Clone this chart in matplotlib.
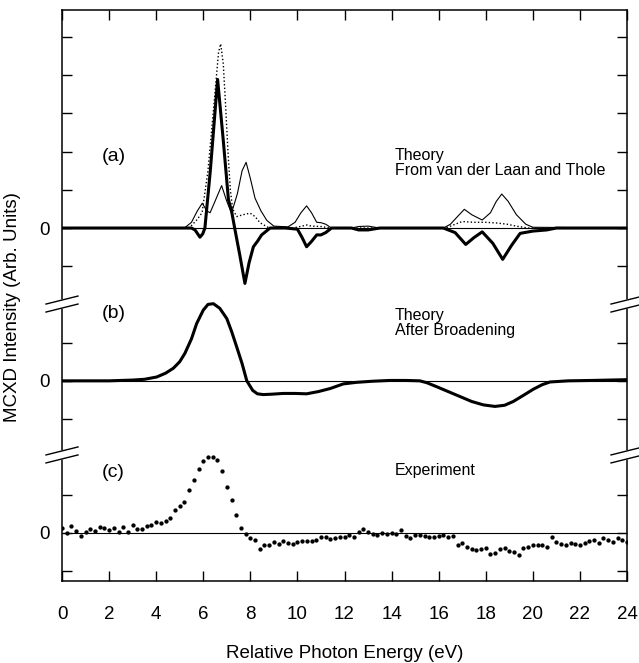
import numpy as np
import matplotlib
matplotlib.use("Agg")
import matplotlib.pyplot as plt

plt.rcParams['font.family'] = ['Liberation Sans', 'DejaVu Sans']

# (a) theory from van der Laan and Thole -- thick solid (MCXD)
e_a_mcxd = [0, 5.0, 5.5, 5.65, 5.86, 5.98, 6.07, 6.3, 6.61, 6.85, 7.07, 7.2, 7.35, 7.55, 7.77,
            7.95, 8.13, 8.3, 8.48, 8.84, 9.5, 10.0, 10.2, 10.39, 10.6, 10.82, 11.0, 11.2, 11.45,
            12.3, 12.6, 13.0, 13.5, 16.2, 16.7, 17.15, 17.5, 17.85, 18.3, 18.72, 19.1, 19.46,
            20.0, 20.59, 21.0, 24]
i_a_mcxd = [0, 0, 0, -0.05, -0.24, -0.15, 0.0, 1.5, 3.89, 2.3, 0.74, 0.45, -0.05, -0.7, -1.45,
            -0.9, -0.49, -0.35, -0.18, 0.0, 0.0, -0.03, -0.25, -0.49, -0.35, -0.18, -0.18, -0.12, 0.0,
            0.0, -0.05, -0.05, 0.0, 0.0, -0.12, -0.43, -0.25, -0.1, -0.4, -0.82, -0.45, -0.14,
            -0.08, -0.05, 0.0, 0.0]

# (a) thin solid
e_a_thin = [0, 5.2, 5.5, 5.75, 5.96, 6.15, 6.29, 6.5, 6.78, 7.0, 7.2, 7.45, 7.65, 7.82, 8.0,
            8.2, 8.45, 8.7, 9.0, 9.6, 9.9, 10.15, 10.39, 10.6, 10.82, 11.0, 11.2, 11.45, 12.3,
            12.6, 13.0, 13.5, 16.2, 16.5, 16.8, 17.09, 17.4, 17.85, 18.2, 18.45, 18.68, 18.95,
            19.3, 19.7, 20.0, 24]
i_a_thin = [0, 0, 0.15, 0.45, 0.65, 0.45, 0.4, 0.7, 1.11, 0.7, 0.39, 0.9, 1.5, 1.72, 1.3,
            0.78, 0.45, 0.2, 0.05, 0.03, 0.15, 0.4, 0.58, 0.4, 0.15, 0.14, 0.1, 0.0, 0.0,
            0.04, 0.05, 0.0, 0.0, 0.1, 0.3, 0.49, 0.35, 0.21, 0.4, 0.7, 0.89, 0.7,
            0.35, 0.1, 0.02, 0]

# (a) dotted
e_a_dot = [0, 5.4, 5.72, 5.95, 6.2, 6.45, 6.65, 6.74, 6.85, 6.95, 7.05, 7.15, 7.25, 7.42, 7.7,
           7.99, 8.2, 8.41, 8.8, 9.8, 10.2, 10.4, 10.6, 11.0, 11.4, 16.3, 16.7, 17.0, 17.5,
           18.0, 18.5, 18.9, 19.3, 19.8, 24]
i_a_dot = [0, 0, 0.21, 0.4, 1.5, 3.2, 4.6, 4.82, 4.3, 3.2, 2.0, 1.0, 0.5, 0.3, 0.35,
           0.39, 0.3, 0.14, 0.0, 0.0, 0.05, 0.08, 0.05, 0.04, 0, 0, 0.1, 0.17, 0.15,
           0.15, 0.13, 0.1, 0.05, 0, 0]

# (b) theory after broadening
e_b = [0, 2.0, 3.0, 3.5, 4.02, 4.4, 4.73, 5.0, 5.22, 5.5, 5.72, 6.0, 6.2, 6.43, 6.7, 7.0, 7.2,
       7.42, 7.65, 7.85, 8.1, 8.3, 8.55, 8.9, 9.4, 9.9, 10.39, 10.9, 11.4, 11.95, 12.5, 13.2,
       13.93, 14.6, 15.2, 15.5, 15.9, 16.4, 16.9, 17.4, 17.9, 18.39, 18.8, 19.17, 19.6, 20.02,
       20.4, 20.73, 21.5, 22.5, 24]
i_b = [0, 0, 0.02, 0.04, 0.1, 0.2, 0.33, 0.5, 0.72, 1.1, 1.5, 1.85, 2.0, 2.02, 1.9, 1.63, 1.3,
       0.89, 0.45, 0.0, -0.25, -0.34, -0.36, -0.35, -0.33, -0.33, -0.34, -0.28, -0.2, -0.08, -0.04,
       -0.01, 0.01, 0.01, 0.0, -0.05, -0.15, -0.28, -0.41, -0.54, -0.63, -0.67, -0.64, -0.54,
       -0.38, -0.22, -0.1, -0.03, 0, 0.01, 0.03]

# (c) experiment
e_c = [0.0, 0.2, 0.4, 0.6, 0.8, 1.0, 1.2, 1.4, 1.6, 1.8, 2.0, 2.2, 2.4, 2.6, 2.8, 3.0, 3.2, 3.4,
       3.6, 3.8, 4.0, 4.2, 4.4, 4.6, 4.8, 5.0, 5.2, 5.4, 5.6, 5.8, 6.0, 6.2, 6.4, 6.6, 6.8, 7.0,
       7.2, 7.4, 7.6, 7.8, 8.0, 8.2, 8.4, 8.6, 8.8, 9.0, 9.2, 9.4, 9.6, 9.8, 10.0, 10.2, 10.4,
       10.6, 10.8, 11.0, 11.2, 11.4, 11.6, 11.8, 12.0, 12.2, 12.4, 12.6, 12.8, 13.0, 13.2, 13.4,
       13.6, 13.8, 14.0, 14.2, 14.4, 14.6, 14.8, 15.0, 15.2, 15.4, 15.6, 15.8, 16.0, 16.2, 16.4,
       16.6, 16.8, 17.0, 17.2, 17.4, 17.6, 17.8, 18.0, 18.2, 18.4, 18.6, 18.8, 19.0, 19.2, 19.4,
       19.6, 19.8, 20.0, 20.2, 20.4, 20.6, 20.8, 21.0, 21.2, 21.4, 21.6, 21.8, 22.0, 22.2, 22.4,
       22.6, 22.8, 23.0, 23.2, 23.4, 23.6, 23.8, 24.0]
i_c = [0.13, 0.0, 0.19, 0.05, -0.07, 0.02, 0.11, 0.05, 0.15, 0.12, 0.07, 0.13, 0.03, 0.15, 0.03,
       0.2, 0.11, 0.1, 0.18, 0.2, 0.29, 0.25, 0.3, 0.38, 0.6, 0.71, 0.81, 1.12, 1.38, 1.66, 1.88,
       1.99, 1.99, 1.9, 1.63, 1.21, 0.85, 0.48, 0.14, -0.04, -0.14, -0.19, -0.41, -0.33, -0.33,
       -0.23, -0.29, -0.21, -0.26, -0.28, -0.24, -0.22, -0.2, -0.22, -0.18, -0.12, -0.12, -0.16,
       -0.14, -0.1, -0.12, -0.06, -0.12, 0.02, 0.09, 0.03, -0.03, -0.05, 0.0, -0.02, -0.01, -0.04,
       0.08, -0.07, -0.13, -0.05, -0.06, -0.09, -0.12, -0.11, -0.07, -0.05, -0.12, -0.09, -0.31,
       -0.26, -0.37, -0.42, -0.46, -0.43, -0.39, -0.56, -0.54, -0.42, -0.39, -0.47, -0.5, -0.57,
       -0.39, -0.36, -0.31, -0.33, -0.33, -0.36, -0.11, -0.24, -0.3, -0.31, -0.26, -0.28, -0.31,
       -0.27, -0.22, -0.19, -0.27, -0.14, -0.19, -0.24, -0.14, -0.18, -0.23]

# vertical offsets of the three stacked panels (one tick = one unit)
off_a = 9.24
off_b = 5.24
off_c = 1.26

fig = plt.figure(figsize=(6.39, 6.63), dpi=100)
ax = fig.add_axes([62 / 639, 1 - 581 / 663, 565 / 639, 571 / 663])

thick = 2.2
thin = 0.8

for off in (off_a, off_b, off_c):
    ax.axhline(off, color='black', lw=0.8, zorder=1)

ax.plot(e_a_thin, np.array(i_a_thin) + off_a, color='black', lw=thin)
ax.plot(e_a_dot, np.array(i_a_dot) + off_a, color='black', lw=1.0, linestyle=(0, (1, 1.6)))
ax.plot(e_a_mcxd, np.array(i_a_mcxd) + off_a, color='black', lw=thick)
ax.plot(e_b, np.array(i_b) + off_b, color='black', lw=thick)
ax.plot(e_c, np.array(i_c) + off_c, 'o', color='black', ms=3.1, mew=0)

ax.set_xlim(0, 24)
ax.set_ylim(0, 571 / 38.2)
ax.set_xticks(np.arange(0, 25, 2))

yt = [off_a + k for k in range(-1, 6)] + [off_b + k for k in (-1, 0, 1)] + [off_c + k for k in (-1, 0, 1)]
ylab = ['0' if k == 0 else '' for k in range(-1, 6)] + ['', '0', ''] + ['', '0', '']
ax.set_yticks(yt)
ax.set_yticklabels(ylab)

ax.tick_params(axis='x', direction='in', length=7, width=1, top=True, labelsize=13.5, pad=18)
ax.tick_params(axis='y', direction='in', length=7, width=1, right=True, labelsize=13.5, pad=9)
for s in ax.spines.values():
    s.set_linewidth(1.1)

ax.set_xlabel('Relative Photon Energy (eV)', fontsize=13.5, labelpad=16)
ax.set_ylabel('MCXD Intensity (Arb. Units)', fontsize=13.5, labelpad=8)
ax.yaxis.set_label_coords(-0.072, 0.48)

ax.text(1.7, 11.12, '(a)', fontsize=14, va='center')
ax.text(14.15, 10.95, 'Theory\nFrom van der Laan and Thole', fontsize=11.5, va='center', linespacing=1.0)
ax.text(1.7, 7.0, '(b)', fontsize=14, va='center')
ax.text(14.15, 6.76, 'Theory\nAfter Broadening', fontsize=11.5, va='center', linespacing=1.0)
ax.text(1.7, 2.85, '(c)', fontsize=14, va='center')
ax.text(14.15, 2.9, 'Experiment', fontsize=11.5, va='center')

# axis break marks "//" on both sides
w = 565.0
h = 571.0
for xa in (0.0, 1.0):
    for yb in (7.25, 3.3):
        ya = yb / (571 / 38.2)
        dx = 16 / w
        dy = 4 / h
        gap = 4 / h
        poly_x = [xa - dx, xa + dx, xa + dx, xa - dx]
        poly_y = [ya - dy + gap, ya + dy + gap, ya + dy - gap, ya - dy - gap]
        ax.fill(poly_x, poly_y, color='white', transform=ax.transAxes, clip_on=False, zorder=5)
        for g in (gap, -gap):
            ax.plot([xa - dx, xa + dx], [ya - dy + g, ya + dy + g], color='black', lw=1.0,
                    transform=ax.transAxes, clip_on=False, zorder=6)

fig.savefig('out.png', dpi=100)
